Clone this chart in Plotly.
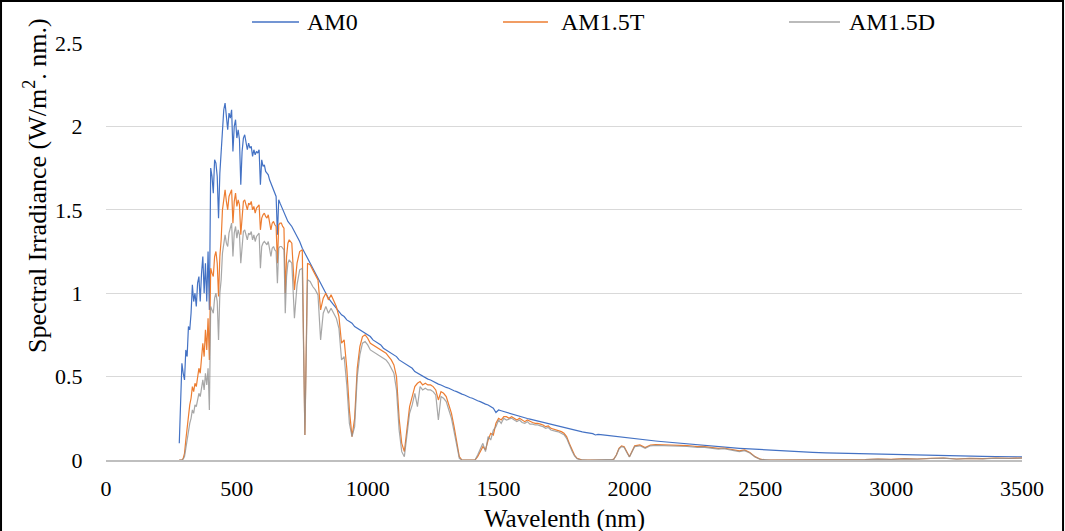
import plotly.graph_objects as go

# ---- wavelength grid (nm) ----
wl_uv_vis = list(range(280, 701, 5))     # 85 points
wl_nir = list(range(710, 2001, 10))      # 130 points
wl_swir = list(range(2020, 2601, 20))    # 30 points
wl_ir = list(range(2650, 3501, 50))      # 18 points
wavelength = wl_uv_vis + wl_nir + wl_swir + wl_ir

# ---- AM0 (W/m2/nm) ----
am0_uv_vis = [0.10, 0.30, 0.58, 0.52, 0.48, 0.66, 0.62, 0.80, 0.78, 0.88,
              1.05, 0.95, 1.00, 0.92, 1.06, 1.10, 0.95, 1.12, 1.22, 1.00,
              1.18, 0.95, 1.25, 0.90, 1.75, 1.70, 1.60, 1.80, 1.78, 1.70,
              1.45, 1.72, 1.85, 2.02, 2.10, 2.14, 2.05, 1.98, 2.08, 2.05,
              2.10, 1.85, 2.00, 2.04, 1.93, 1.98, 1.92, 1.65, 1.85, 1.93,
              1.95, 1.90, 1.86, 1.90, 1.87, 1.88, 1.82, 1.86, 1.83, 1.85,
              1.84, 1.86, 1.65, 1.80, 1.76, 1.77, 1.73, 1.72, 1.71, 1.68,
              1.66, 1.65, 1.63, 1.60, 1.58, 1.35, 1.56, 1.54, 1.52, 1.50,
              1.49, 1.46, 1.45, 1.43, 1.42]
am0_nir = [1.40, 1.37, 1.34, 1.31, 1.27, 1.24, 1.21, 1.18, 1.15, 1.12,
           1.09, 1.06, 1.03, 1.00, 0.97, 0.95, 0.93, 0.91, 0.89, 0.87,
           0.86, 0.84, 0.83, 0.82, 0.80, 0.79, 0.78, 0.77, 0.76, 0.75,
           0.74, 0.72, 0.71, 0.70, 0.69, 0.67, 0.66, 0.65, 0.64, 0.63,
           0.62, 0.60, 0.59, 0.58, 0.57, 0.56, 0.55, 0.53, 0.52, 0.51,
           0.50, 0.495, 0.485, 0.48, 0.47, 0.46, 0.455, 0.45, 0.44, 0.435,
           0.43, 0.42, 0.415, 0.41, 0.40, 0.395, 0.39, 0.38, 0.375, 0.37,
           0.36, 0.355, 0.35, 0.34, 0.335, 0.33, 0.32, 0.31, 0.285, 0.30,
           0.295, 0.29, 0.285, 0.28, 0.275, 0.27, 0.265, 0.26, 0.257, 0.253,
           0.249, 0.245, 0.241, 0.237, 0.233, 0.229, 0.225, 0.221, 0.217, 0.213,
           0.209, 0.205, 0.201, 0.197, 0.193, 0.189, 0.186, 0.182, 0.178, 0.175,
           0.172, 0.169, 0.166, 0.163, 0.160, 0.158, 0.150, 0.154, 0.152, 0.150,
           0.148, 0.146, 0.144, 0.142, 0.140, 0.138, 0.136, 0.134, 0.132, 0.130]
am0_swir = [0.126, 0.123, 0.120, 0.117, 0.114, 0.111, 0.108, 0.105, 0.102, 0.099,
            0.096, 0.093, 0.090, 0.087, 0.085, 0.082, 0.080, 0.077, 0.075, 0.072,
            0.070, 0.068, 0.066, 0.064, 0.062, 0.060, 0.058, 0.056, 0.054, 0.052]
am0_ir = [0.049, 0.046, 0.043, 0.041, 0.038, 0.036, 0.034, 0.032, 0.030,
          0.029, 0.027, 0.026, 0.024, 0.023, 0.022, 0.021, 0.020, 0.019]

# ---- AM1.5 Global tilt ----
am15t_uv_vis = [0.0, 0.0, 0.0, 0.01, 0.04, 0.12, 0.20, 0.28, 0.33, 0.37,
                0.44, 0.41, 0.46, 0.44, 0.50, 0.55, 0.52, 0.60, 0.70, 0.62,
                0.78, 0.66, 0.85, 0.60, 1.15, 1.12, 1.10, 1.22, 1.25, 1.18,
                0.98, 1.22, 1.32, 1.50, 1.58, 1.62, 1.55, 1.50, 1.58, 1.60,
                1.62, 1.42, 1.55, 1.60, 1.52, 1.56, 1.53, 1.35, 1.48, 1.55,
                1.56, 1.52, 1.50, 1.54, 1.53, 1.55, 1.50, 1.52, 1.48, 1.51,
                1.52, 1.53, 1.38, 1.45, 1.47, 1.48, 1.46, 1.45, 1.47, 1.42,
                1.38, 1.42, 1.43, 1.41, 1.40, 1.18, 1.41, 1.42, 1.42, 1.40,
                1.39, 1.00, 1.22, 1.30, 1.32]
am15t_nir = [1.30, 1.02, 1.18, 1.25, 1.26, 0.15, 1.18, 1.17, 1.14, 1.11,
             1.08, 0.90, 0.97, 1.00, 0.96, 0.99, 0.95, 0.92, 0.86, 0.70,
             0.72, 0.55, 0.30, 0.14, 0.25, 0.55, 0.68, 0.74, 0.75, 0.73,
             0.70, 0.69, 0.68, 0.67, 0.66, 0.65, 0.64, 0.62, 0.60, 0.57,
             0.50, 0.25, 0.10, 0.05, 0.20, 0.32, 0.38, 0.44, 0.46, 0.47,
             0.45, 0.46, 0.45, 0.45, 0.44, 0.42, 0.36, 0.41, 0.40, 0.38,
             0.33, 0.28, 0.20, 0.10, 0.02, 0.0, 0.0, 0.0, 0.0, 0.0,
             0.0, 0.02, 0.05, 0.08, 0.06, 0.12, 0.16, 0.15, 0.22, 0.25,
             0.24, 0.26, 0.26, 0.25, 0.26, 0.25, 0.24, 0.25, 0.24, 0.23,
             0.24, 0.23, 0.225, 0.22, 0.22, 0.215, 0.21, 0.20, 0.205, 0.19,
             0.185, 0.18, 0.175, 0.17, 0.16, 0.14, 0.10, 0.06, 0.03, 0.01,
             0.003, 0.0, 0.0, 0.0, 0.0, 0.0, 0.0, 0.0, 0.0, 0.0,
             0.0, 0.0, 0.0, 0.005, 0.03, 0.07, 0.085, 0.08, 0.05, 0.02]
am15t_swir = [0.085, 0.090, 0.075, 0.090, 0.093, 0.092, 0.094, 0.093, 0.090, 0.088,
              0.086, 0.084, 0.080, 0.082, 0.078, 0.075, 0.070, 0.072, 0.065, 0.060,
              0.055, 0.060, 0.045, 0.020, 0.005, 0.0, 0.0, 0.0, 0.0, 0.0]
am15t_ir = [0.0, 0.0, 0.0, 0.0, 0.0, 0.003, 0.006, 0.004, 0.008,
            0.006, 0.010, 0.012, 0.006, 0.010, 0.008, 0.012, 0.010, 0.012]

# ---- AM1.5 Direct ----
am15d_uv_vis = [0.0, 0.0, 0.0, 0.005, 0.02, 0.07, 0.13, 0.19, 0.22, 0.25,
                0.30, 0.28, 0.33, 0.32, 0.37, 0.40, 0.38, 0.43, 0.48, 0.42,
                0.52, 0.45, 0.55, 0.30, 0.92, 0.90, 0.88, 0.97, 1.00, 0.95,
                0.72, 1.00, 1.08, 1.24, 1.30, 1.35, 1.30, 1.28, 1.36, 1.40,
                1.42, 1.22, 1.36, 1.40, 1.33, 1.38, 1.35, 1.18, 1.30, 1.37,
                1.38, 1.34, 1.32, 1.36, 1.35, 1.37, 1.32, 1.35, 1.31, 1.34,
                1.35, 1.36, 1.15, 1.28, 1.30, 1.31, 1.30, 1.29, 1.31, 1.26,
                1.22, 1.27, 1.28, 1.26, 1.25, 1.06, 1.27, 1.28, 1.28, 1.27,
                1.26, 0.88, 1.10, 1.18, 1.20]
am15d_nir = [1.18, 0.85, 1.05, 1.14, 1.15, 0.15, 1.08, 1.07, 1.04, 1.02,
             0.99, 0.72, 0.88, 0.92, 0.88, 0.91, 0.88, 0.85, 0.79, 0.60,
             0.62, 0.45, 0.22, 0.14, 0.20, 0.50, 0.63, 0.70, 0.71, 0.69,
             0.66, 0.65, 0.64, 0.63, 0.62, 0.61, 0.60, 0.58, 0.55, 0.52,
             0.42, 0.18, 0.05, 0.02, 0.15, 0.28, 0.33, 0.40, 0.32, 0.44,
             0.42, 0.43, 0.42, 0.42, 0.41, 0.39, 0.24, 0.38, 0.37, 0.35,
             0.30, 0.25, 0.17, 0.08, 0.01, 0.0, 0.0, 0.0, 0.0, 0.0,
             0.0, 0.03, 0.07, 0.10, 0.05, 0.14, 0.12, 0.18, 0.20, 0.24,
             0.22, 0.25, 0.24, 0.245, 0.25, 0.24, 0.23, 0.24, 0.225, 0.22,
             0.23, 0.215, 0.215, 0.21, 0.21, 0.205, 0.20, 0.19, 0.195, 0.18,
             0.178, 0.172, 0.168, 0.162, 0.152, 0.13, 0.09, 0.055, 0.025, 0.008,
             0.002, 0.0, 0.0, 0.0, 0.0, 0.0, 0.0, 0.0, 0.0, 0.0,
             0.0, 0.0, 0.0, 0.004, 0.028, 0.065, 0.08, 0.075, 0.045, 0.018]
am15d_swir = [0.080, 0.085, 0.070, 0.085, 0.088, 0.087, 0.089, 0.088, 0.085, 0.083,
              0.081, 0.079, 0.075, 0.077, 0.073, 0.070, 0.065, 0.068, 0.060, 0.056,
              0.050, 0.056, 0.042, 0.018, 0.004, 0.0, 0.0, 0.0, 0.0, 0.0]
am15d_ir = [0.0, 0.0, 0.0, 0.0, 0.0, 0.002, 0.005, 0.003, 0.007,
            0.005, 0.009, 0.011, 0.005, 0.009, 0.007, 0.011, 0.009, 0.011]

am0 = am0_uv_vis + am0_nir + am0_swir + am0_ir
am15t = am15t_uv_vis + am15t_nir + am15t_swir + am15t_ir
am15d = am15d_uv_vis + am15d_nir + am15d_swir + am15d_ir

series_names = ["AM0", "AM1.5T", "AM1.5D"]
series_colors = ["#4472c4", "#ed7d31", "rgba(145,145,145,0.8)"]
legend_colors = ["#4472c4", "#ed7d31", "#a5a5a5"]
series_values = [am0, am15t, am15d]

FONT = "Liberation Serif, Times New Roman, serif"

fig = go.Figure()
for name, color, vals in zip(series_names, series_colors, series_values):
    fig.add_trace(go.Scatter(x=wavelength, y=vals, mode="lines", name=name,
                             showlegend=False, line=dict(color=color, width=1.2)))

fig.update_layout(
    width=1065, height=531,
    margin=dict(l=106, r=43, t=43, b=71),
    plot_bgcolor="white", paper_bgcolor="white",
    font=dict(family=FONT, size=22, color="black"),
    showlegend=False,
)
fig.update_xaxes(range=[0, 3500], tick0=0, dtick=500, showgrid=False, zeroline=False,
                 showline=True, linecolor="#bfbfbf", linewidth=2,
                 ticks="outside", ticklen=8, tickcolor="rgba(0,0,0,0)",
                 tickfont=dict(family=FONT, size=22, color="black"))
fig.update_yaxes(range=[0, 2.5], tick0=0, dtick=0.5, showgrid=True, gridcolor="#d9d9d9",
                 gridwidth=1, zeroline=False, showline=False,
                 ticks="outside", ticklen=18, tickcolor="rgba(0,0,0,0)",
                 tickfont=dict(family=FONT, size=22, color="black"))

# legend (top, horizontal) drawn as line samples + labels
legend_line_x = [(0.1594, 0.2107), (0.4334, 0.4825), (0.7456, 0.8013)]
legend_text_x = [0.2172, 0.4945, 0.8090]
LEG_Y = 1.0504
for name, col, (lx0, lx1), tx in zip(series_names, legend_colors, legend_line_x, legend_text_x):
    fig.add_shape(type="line", xref="paper", yref="paper", x0=lx0, x1=lx1, y0=LEG_Y, y1=LEG_Y,
                  line=dict(color=col, width=1.5))
    fig.add_annotation(text=name, xref="paper", yref="paper", x=tx, y=LEG_Y,
                       xanchor="left", yanchor="middle", showarrow=False,
                       font=dict(family=FONT, size=24, color="black"))

fig.add_annotation(text="Spectral Irradiance (W/m<sup>2</sup>. nm.)", textangle=-90,
                   xref="paper", yref="paper", x=-0.0775, y=0.657,
                   xanchor="center", yanchor="middle", showarrow=False,
                   font=dict(family=FONT, size=26, color="black"))
fig.add_annotation(text="Wavelenth (nm)", xref="paper", yref="paper", x=0.5, y=-0.141,
                   xanchor="center", yanchor="middle", showarrow=False,
                   font=dict(family=FONT, size=25, color="black"))

# outer frame
fig.add_shape(type="rect", xref="paper", yref="paper",
              x0=-0.1146, x1=1.0448, y0=-0.19, y1=1.1007,
              line=dict(color="black", width=2), fillcolor="rgba(0,0,0,0)")

fig.write_html("out.html")
